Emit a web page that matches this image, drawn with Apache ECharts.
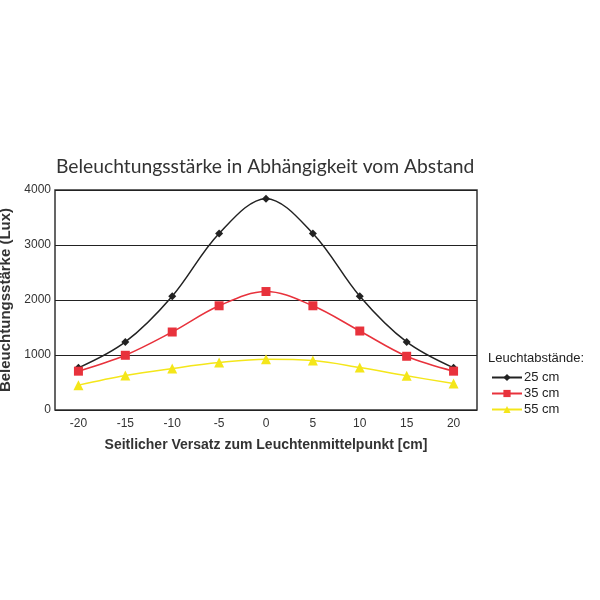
<!DOCTYPE html>
<html>
<head>
<meta charset="utf-8">
<script src="https://cdn.jsdelivr.net/npm/echarts@6/dist/echarts.min.js"></script>
<style>
  html, body { margin: 0; padding: 0; background: #fff; }
  #chart { width: 600px; height: 600px; }
</style>
</head>
<body>
<div id="chart"></div>
<script>
// Seitlicher Versatz (cm)
const offsets = ['-20', '-15', '-10', '-5', '0', '5', '10', '15', '20'];
// Beleuchtungsstärke (Lux) je Leuchtabstand
const lux25 = [766, 1237, 2069, 3210, 3843, 3210, 2069, 1237, 766];
const lux35 = [706, 995, 1418, 1895, 2154, 1895, 1436, 977, 706];
const lux55 = [452, 627, 754, 862, 923, 899, 772, 621, 483];
const seriesNames = ['25 cm', '35 cm', '55 cm'];

const chart = echarts.init(document.getElementById('chart'), undefined, { renderer: 'canvas' });

const textFont = 'Arial, "Liberation Sans", sans-serif';

function lineSeries(name, data, color, symbol, size) {
  return {
    name: name,
    type: 'line',
    data: data,
    smooth: 0.35,
    symbol: symbol,
    symbolSize: size,
    lineStyle: { color: color, width: 1.5 },
    itemStyle: { color: color },
    z: 3
  };
}

chart.setOption({
  animation: false,
  backgroundColor: '#fff',
  title: {
    text: 'Beleuchtungsstärke in Abhängigkeit vom Abstand',
    left: 51,
    top: 152,
    textStyle: { fontFamily: 'Lato, sans-serif', fontWeight: 'normal', fontSize: 19.3, color: '#333' }
  },
  graphic: [{
    type: 'text',
    left: 488,
    top: 352,
    style: { text: 'Leuchtabstände:', font: '13px ' + textFont, fill: '#222' }
  }],
  legend: {
    orient: 'vertical',
    left: 486,
    top: 366,
    itemWidth: 30,
    itemHeight: 9,
    itemGap: 3,
    data: seriesNames,
    textStyle: { fontFamily: textFont, fontSize: 13, color: '#222', padding: [0, 0, 0, -3] }
  },
  grid: {
    left: 55,
    right: 123,
    top: 190,
    bottom: 190,
    show: true,
    borderColor: '#333',
    borderWidth: 1.5,
    containLabel: false,
    outerBoundsMode: 'none'
  },
  xAxis: {
    type: 'category',
    data: offsets,
    boundaryGap: true,
    name: 'Seitlicher Versatz zum Leuchtenmittelpunkt [cm]',
    nameLocation: 'middle',
    nameGap: 28,
    nameTextStyle: { fontFamily: textFont, fontSize: 14, fontWeight: 'bold', color: '#333' },
    axisLine: { show: false },
    axisTick: { show: false },
    axisLabel: { fontFamily: textFont, fontSize: 12, color: '#333', margin: 8 }
  },
  yAxis: {
    type: 'value',
    min: 0,
    max: 4000,
    interval: 1000,
    name: 'Beleuchtungsstärke (Lux)',
    nameLocation: 'middle',
    nameGap: 38,
    nameTextStyle: { fontFamily: textFont, fontSize: 15, fontWeight: 'bold', color: '#333' },
    axisLine: { show: false },
    axisTick: { show: false },
    axisLabel: { fontFamily: textFont, fontSize: 12, color: '#333', margin: 4, formatter: (v) => String(v) },
    splitLine: { show: true, lineStyle: { color: '#222', width: 1.2 } }
  },
  series: [
    lineSeries(seriesNames[0], lux25, '#222222', 'diamond', 8),
    lineSeries(seriesNames[1], lux35, '#e8323c', 'rect', 9),
    lineSeries(seriesNames[2], lux55, '#f4e61a', 'triangle', 10)
  ]
});
</script>
</body>
</html>
